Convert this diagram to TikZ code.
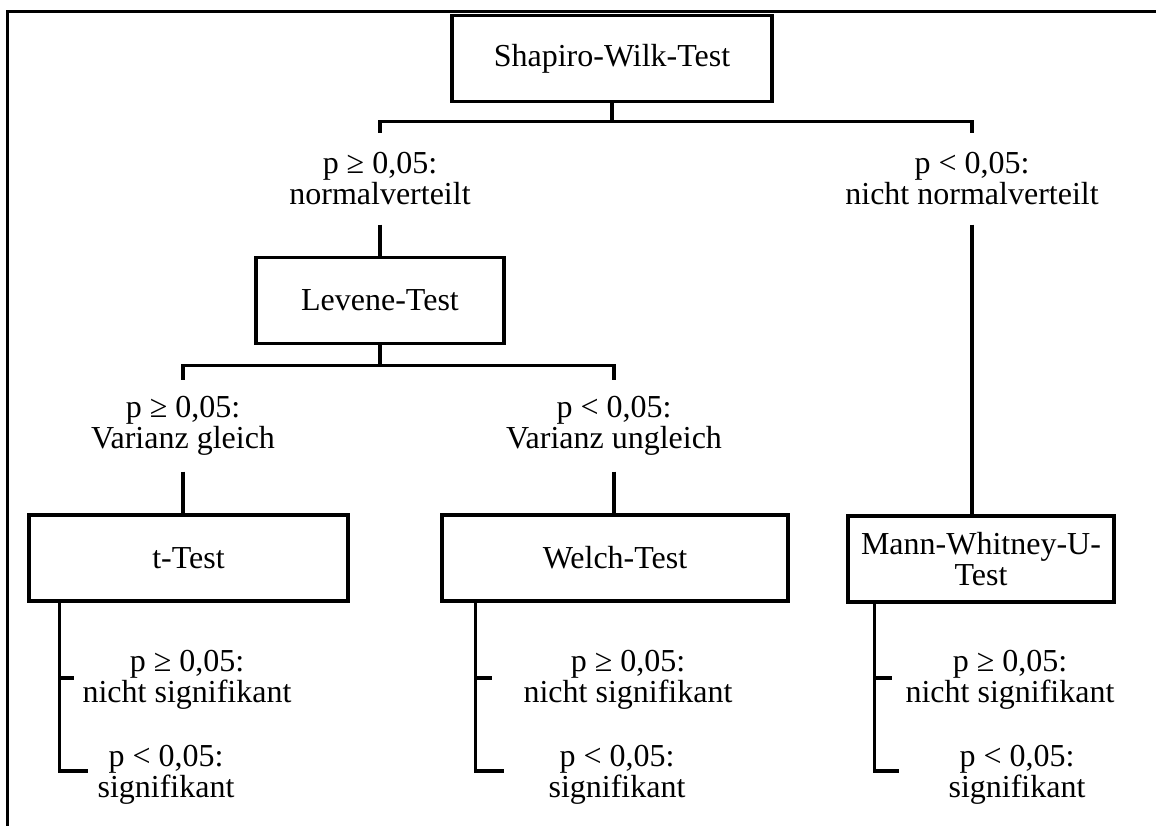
\documentclass[tikz,border=0pt]{standalone}
\usepackage{fontspec}
\setmainfont{Liberation Serif}
\usetikzlibrary{positioning}

\begin{document}
\begin{tikzpicture}[
        x=0.5pt, y=-0.5pt,
        line width=1.6pt,
        font=\fontsize{16}{15.5}\selectfont,
        testbox/.style={draw, align=center, minimum height=43pt, inner sep=2pt},
        cond/.style={align=center, inner sep=0pt, minimum height=44pt},
        result/.style={align=center, inner sep=0pt}
    ]
        \useasboundingbox (0,0) rectangle (1156,825);
        \draw[line width=1.7pt] (7.5,11.5) rectangle (1200,900);

        % tests
        \node[testbox, minimum width=160pt] (sw) at (612,58.5) {Shapiro-Wilk-Test};
        \node[testbox, minimum width=124pt] (lev) at (380,300.5) {Levene-Test};
        \node[testbox, minimum width=159.5pt] (tt) at (188.5,558) {t-Test};
        \node[testbox, minimum width=173pt] (wt) at (615,558) {Welch-Test};
        \node[testbox, minimum width=133pt] (mw) at (981,559) {Mann-Whitney-U-\\Test};

        % conditions
        \node[cond] (nv) at (380,179) {p ≥ 0,05:\\normalverteilt};
        \node[cond] (nn) at (972,179) {p < 0,05:\\nicht normalverteilt};
        \node[cond] (vg) at (183,426) {p ≥ 0,05:\\Varianz gleich};
        \node[cond] (vu) at (614,426) {p < 0,05:\\Varianz ungleich};

        % results
        \node[result] (tns) at (187,680) {p ≥ 0,05:\\nicht signifikant};
        \node[result] (tsg) at (166,775) {p < 0,05:\\signifikant};
        \node[result] (wns) at (628,680) {p ≥ 0,05:\\nicht signifikant};
        \node[result] (wsg) at (617,775) {p < 0,05:\\signifikant};
        \node[result] (mns) at (1010,680) {p ≥ 0,05:\\nicht signifikant};
        \node[result] (msg) at (1017,775) {p < 0,05:\\signifikant};

        % tree
        \draw (sw.south) -- ++(0,18) -| (nv.north);
        \draw (sw.south) -- ++(0,18) -| (nn.north);
        \draw (nv.south) -- (lev.north);
        \draw (nn.south) -- (nn.south |- mw.north);
        \draw (lev.south) -- ++(0,20) -| (vg.north);
        \draw (lev.south) -- ++(0,20) -| (vu.north);
        \draw (vg.south) -- (vg.south |- tt.north);
        \draw (vu.south) -- (vu.south |- wt.north);

        % brackets to the results
        \coordinate (t1) at (74,678);
        \coordinate (t2) at (88,771);
        \draw (tt.south west) ++(32,0) |- (t2);
        \draw (tt.south west) ++(32,0) |- (t1);
        \coordinate (w1) at (492,678);
        \coordinate (w2) at (504,771);
        \draw (wt.south west) ++(35,0) |- (w2);
        \draw (wt.south west) ++(35,0) |- (w1);
        \coordinate (m1) at (892,678);
        \coordinate (m2) at (899,771);
        \draw (mw.south west) ++(28,0) |- (m2);
        \draw (mw.south west) ++(28,0) |- (m1);
    \end{tikzpicture}
\end{document}
